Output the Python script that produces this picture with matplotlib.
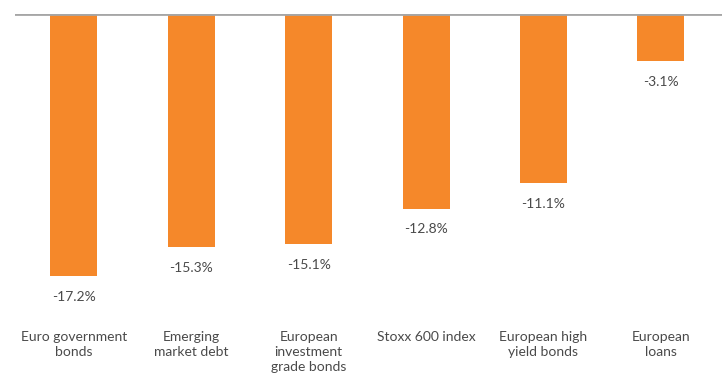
import matplotlib.pyplot as plt

# asset classes and their returns (%)
categories = ["Euro government\nbonds", "Emerging\nmarket debt", "European\ninvestment\ngrade bonds",
              "Stoxx 600 index", "European high\nyield bonds", "European\nloans"]
returns = [-17.2, -15.3, -15.1, -12.8, -11.1, -3.1]

plt.rcParams['font.family'] = ['Lato', 'DejaVu Sans']

fig = plt.figure(figsize=(7.28, 3.76), dpi=100)
# axes top sits on the zero line, bottom at image bottom
ax = fig.add_axes([15 / 728, 0, 707 / 728, 362 / 376])
ax.set_xlim(-0.5, 5.52)
ax.set_ylim(-23.77, 0)
ax.axis('off')

x = range(len(returns))
ax.bar(x, returns, width=0.4, color='#F5882A', zorder=2)
ax.axhline(0, color='#a6a6a6', linewidth=2, zorder=3)

for i, v in zip(x, returns):
    ax.text(i, v - 1.35, f"{v:.1f}%", ha='center', va='center', fontsize=10, color='#4a4a4a')
    ax.text(i, -20.8, categories[i], ha='center', va='top', fontsize=10, color='#4a4a4a',
            linespacing=1.3)

fig.savefig('out.png', dpi=100)
